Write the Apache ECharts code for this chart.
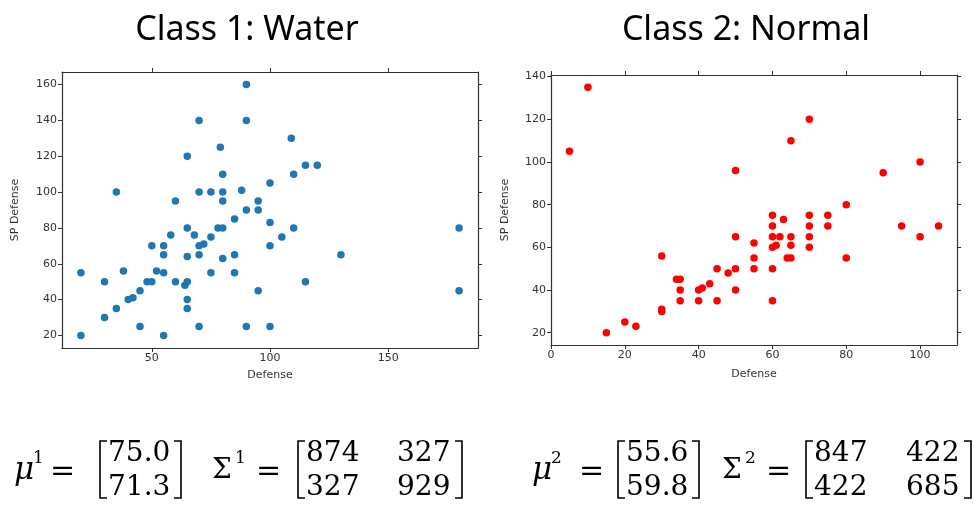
<!DOCTYPE html>
<html><head><meta charset="utf-8">
<script src="https://cdn.jsdelivr.net/npm/echarts@6/dist/echarts.min.js"></script>
<style>html,body{margin:0;padding:0;background:#fff}#c{width:974px;height:511px}</style>
</head><body><div id="c"></div><script>
const titles = ['Class 1: Water', 'Class 2: Normal'];
const xName = 'Defense';
const yName = 'SP Defense';

const waterDefense = [90,90,70,65,79,80,35,60,70,75,80,80,88,90,85,65,78,80,20,20,30,30,35,38,40,42,45,45,48,50,50,52,55,55,55,55,58,60,64,65,65,65,65,68,70,70,70,72,75,75,80,85,85,109,115,120,110,100,95,95,100,110,180,105,100,130,115,95,180,90,100];
const waterSpDefense = [160,140,140,120,125,110,100,95,100,100,100,95,101,90,85,80,80,80,55,20,50,30,35,56,40,41,45,25,50,50,70,56,70,65,55,20,76,50,48,50,64,40,35,76,70,65,25,71,75,55,63,65,55,130,115,115,110,105,95,90,83,80,80,75,70,65,50,45,45,25,25];

const normalDefense = [5,10,50,15,20,23,30,30,30,34,35,35,35,40,41,40,43,45,45,48,50,50,50,70,65,90,100,80,60,63,70,75,60,70,75,95,105,60,62,65,70,100,55,60,61,65,70,55,64,65,80,55,60,60];
const normalSpDefense = [105,135,96,20,25,23,56,31,30,45,45,40,35,40,41,35,43,50,35,48,50,40,65,120,110,95,100,80,75,73,75,75,70,70,70,70,70,65,65,65,65,65,62,60,61,61,60,55,55,55,55,50,50,35];

const waterXTicks = [50,100,150];
const waterYTicks = [20,40,60,80,100,120,140,160];
const normalXTicks = [0,20,40,60,80,100];
const normalYTicks = [20,40,60,80,100,120,140];

const mu1 = [75.0, 71.3];
const sigma1 = [874, 327, 327, 929];
const mu2 = [55.6, 59.8];
const sigma2 = [847, 422, 422, 685];

const FONT = 'DejaVu Sans';
const AX = '#333';

function axis(grid, pos, min, max, ticks, name, showLabel, nameGap) {
  return {
    type: 'value', gridIndex: grid, position: pos, min: min, max: max,
    name: name || '', nameLocation: 'middle', nameGap: nameGap || 0,
    nameTextStyle: {fontFamily: FONT, fontSize: 11, color: AX},
    axisLine: {show: true, onZero: false, lineStyle: {color: AX, width: 1.2}},
    axisTick: {show: true, inside: false, length: 4, customValues: ticks, lineStyle: {color: AX, width: 1}},
    axisLabel: {show: showLabel, customValues: ticks, fontFamily: FONT, fontSize: 11, color: AX, margin: 5},
    splitLine: {show: false}
  };
}

const zip = (a, b) => a.map((v, i) => [v, b[i]]);

const serif = 'DejaVu Serif';
function txt(s, x, y, size, italic) {
  return {type: 'text', x: x, y: y, style: {text: s, fill: '#000',
    font: (italic ? 'italic ' : '') + size + 'px "' + serif + '"',
    textAlign: 'left', textVerticalAlign: 'middle'}};
}
function bracket(x, left) {
  const t = 441, b = 498, w = 7;
  const pts = left ? [[x + w, t], [x, t], [x, b], [x + w, b]] : [[x - w, t], [x, t], [x, b], [x - w, b]];
  return {type: 'polyline', shape: {points: pts}, style: {stroke: '#000', lineWidth: 1.6, fill: null}};
}
function formula(mu, sig, k, o) {
  const r1 = 453.5, r2 = 488;
  return [
    txt('\u03bc', o.mu, 471, 31, true),
    txt(String(k), o.mu + 19, 459, 17),
    txt('=', o.eq1, 472, 30),
    bracket(o.bl1, true),
    txt(mu[0].toFixed(1), o.m, r1, 28),
    txt(mu[1].toFixed(1), o.m, r2, 28),
    bracket(o.br1, false),
    txt('\u03a3', o.sig, 471, 28),
    txt(String(k), o.sig + 23, 459, 17),
    txt('=', o.eq2, 472, 30),
    bracket(o.bl2, true),
    txt(String(sig[0]), o.c1, r1, 28),
    txt(String(sig[1]), o.c2, r1, 28),
    txt(String(sig[2]), o.c1, r2, 28),
    txt(String(sig[3]), o.c2, r2, 28),
    bracket(o.br2, false)
  ];
}

const chart = echarts.init(document.getElementById('c'));
chart.setOption({
  animation: false,
  backgroundColor: '#fff',
  grid: [
    {left: 62, top: 72, width: 416, height: 276},
    {left: 551, top: 75, width: 406, height: 270}
  ],
  xAxis: [
    axis(0, 'bottom', 12, 188, waterXTicks, xName, true, 22),
    axis(0, 'top', 12, 188, waterXTicks, '', false),
    axis(1, 'bottom', 0, 110, normalXTicks, xName, true, 24),
    axis(1, 'top', 0, 110, normalXTicks, '', false)
  ],
  yAxis: [
    axis(0, 'left', 13, 167, waterYTicks, yName, true, 41),
    axis(0, 'right', 13, 167, waterYTicks, '', false),
    axis(1, 'left', 14.25, 140.75, normalYTicks, yName, true, 40),
    axis(1, 'right', 14.25, 140.75, normalYTicks, '', false)
  ],
  series: [
    {type: 'scatter', xAxisIndex: 0, yAxisIndex: 0, data: zip(waterDefense, waterSpDefense),
      symbolSize: 7.5, itemStyle: {color: '#1f77b4', opacity: 1}},
    {type: 'scatter', xAxisIndex: 2, yAxisIndex: 2, data: zip(normalDefense, normalSpDefense),
      symbolSize: 7.5, itemStyle: {color: '#ff0000', opacity: 1}}
  ],
  graphic: [
    {type: 'text', x: 247, y: 30, style: {text: titles[0], fill: '#000', font: '34px "Noto Sans"', textAlign: 'center', textVerticalAlign: 'middle'}},
    {type: 'text', x: 746, y: 30, style: {text: titles[1], fill: '#000', font: '34px "Noto Sans"', textAlign: 'center', textVerticalAlign: 'middle'}}
  ].concat(
    formula(mu1, sigma1, 1, {mu: 14, eq1: 50, bl1: 100, m: 108, br1: 181, sig: 212, eq2: 256, bl2: 298, c1: 306, c2: 397, br2: 462}),
    formula(mu2, sigma2, 2, {mu: 532, eq1: 579, bl1: 618, m: 626, br1: 699, sig: 722, eq2: 766, bl2: 806, c1: 814, c2: 906, br2: 971})
  )
});
</script></body></html>
